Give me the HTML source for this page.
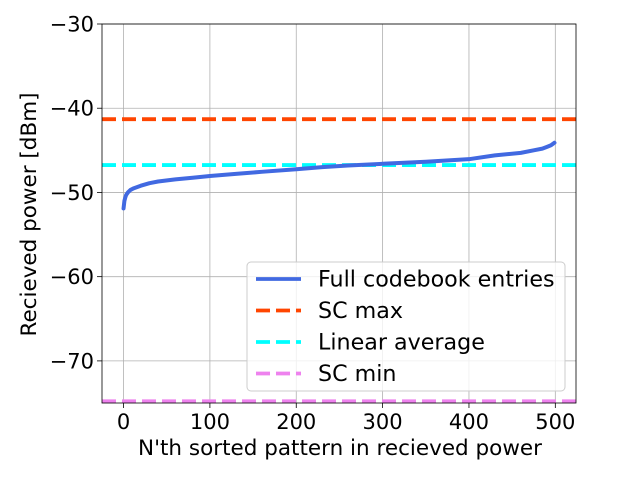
<!DOCTYPE html>
<html><head><meta charset="utf-8"><style>
body{margin:0;background:#fff;}
svg text{font-family:"DejaVu Sans","Liberation Sans",sans-serif;}
</style></head><body>
<svg width="640" height="480" viewBox="0 0 640 480" xmlns="http://www.w3.org/2000/svg">
<g id="grid"></g>
<g id="marks"></g>
<g id="axes"></g>
<g id="legend"></g>
</svg>
<script>
const xIdx=[0,1,2,3,5,8,12,20,30,40,60,80,100,130,160,200,230,260,300,350,400,430,460,475,485,490,495,499];
const power=[-51.9,-51.0,-50.6,-50.3,-50.0,-49.7,-49.5,-49.2,-48.9,-48.7,-48.45,-48.25,-48.05,-47.8,-47.55,-47.25,-47.0,-46.8,-46.6,-46.35,-46.05,-45.6,-45.3,-45.0,-44.8,-44.6,-44.4,-44.1];
const scMax=-41.3, linAvg=-46.75, scMin=-74.8;
const xTicks=[0,100,200,300,400,500];
const yTicks=[-30,-40,-50,-60,-70];
const L=102,R=576,T=24,B=403;
const xMin=-24.95,xMax=523.95,yMin=-75,yMax=-30;
const sx=v=>L+(v-xMin)/(xMax-xMin)*(R-L);
const sy=v=>B-(v-yMin)/(yMax-yMin)*(B-T);
const NS="http://www.w3.org/2000/svg";
function mk(tag,attrs,parent,text){const e=document.createElementNS(NS,tag);for(const k in attrs)e.setAttribute(k,attrs[k]);if(text!==undefined)e.textContent=text;document.getElementById(parent).appendChild(e);return e;}
xTicks.forEach(t=>{
 const g=mk('line',{x1:sx(t),x2:sx(t),y1:T,y2:B,stroke:'#b0b0b0','stroke-width':0.8},'grid');
 
 
 const tk=mk('line',{x1:sx(t),x2:sx(t),y1:B,y2:B+5,stroke:'#000','stroke-width':0.8},'axes');
 
 
 const lb=mk('text',{x:sx(t),y:B+26,'text-anchor':'middle','font-size':21},'axes',String(t));
 
 
});
yTicks.forEach(t=>{
 const g=mk('line',{x1:L,x2:R,y1:sy(t),y2:sy(t),stroke:'#b0b0b0','stroke-width':0.8},'grid');
 
 
 const tk=mk('line',{x1:L-5,x2:L,y1:sy(t),y2:sy(t),stroke:'#000','stroke-width':0.8},'axes');
 
 
 const lb=mk('text',{x:L-8,y:sy(t)+7.5,'text-anchor':'end','font-size':21},'axes',String(t).replace('-','\u2212'));
 
 
});
function hline(v,color,name){
 const l=mk('line',{x1:L,x2:R,y1:sy(v),y2:sy(v),stroke:color,'stroke-width':3.8,'stroke-dasharray':'14,6'},'marks');
 
 
}
hline(scMax,'#ff4500','sc-max-line');
hline(linAvg,'#00ffff','linear-average-line');
hline(scMin,'#ee82ee','sc-min-line');
const p=mk('polyline',{points:xIdx.map((x,i)=>sx(x)+','+sy(power[i])).join(' '),fill:'none',stroke:'#4169e1','stroke-width':4,'stroke-linejoin':'round','stroke-linecap':'round'},'marks');


const fr=mk('rect',{x:L,y:T,width:R-L,height:B-T,fill:'none',stroke:'#000','stroke-width':0.8},'axes');


const xt=mk('text',{x:(L+R)/2+1,y:455,'text-anchor':'middle','font-size':21.5},'axes',"N'th sorted pattern in recieved power");


const yt=mk('text',{x:0,y:0,'text-anchor':'middle','font-size':21.5,transform:'translate(36,'+((T+B)/2+1)+') rotate(-90)'},'axes','Recieved power [dBm]');


const lbox=mk('rect',{x:247,y:262,width:318,height:129,rx:4,fill:'#fff','fill-opacity':0.8,stroke:'#ccc','stroke-width':1},'legend');


const entries=[['Full codebook entries','#4169e1',null],['SC max','#ff4500','14,6'],['Linear average','#00ffff','14,6'],['SC min','#ee82ee','14,6']];
entries.forEach((e,i)=>{
 const y=279+i*31.5;
 const a={x1:256,x2:301,y1:y,y2:y,stroke:e[1],'stroke-width':3.8};
 if(e[2])a['stroke-dasharray']=e[2];
 const ln=mk('line',a,'legend');
 
 
 const tx=mk('text',{x:318,y:y+7.5,'font-size':22.2},'legend',e[0]);
 
 
});
</script>
</body></html>
